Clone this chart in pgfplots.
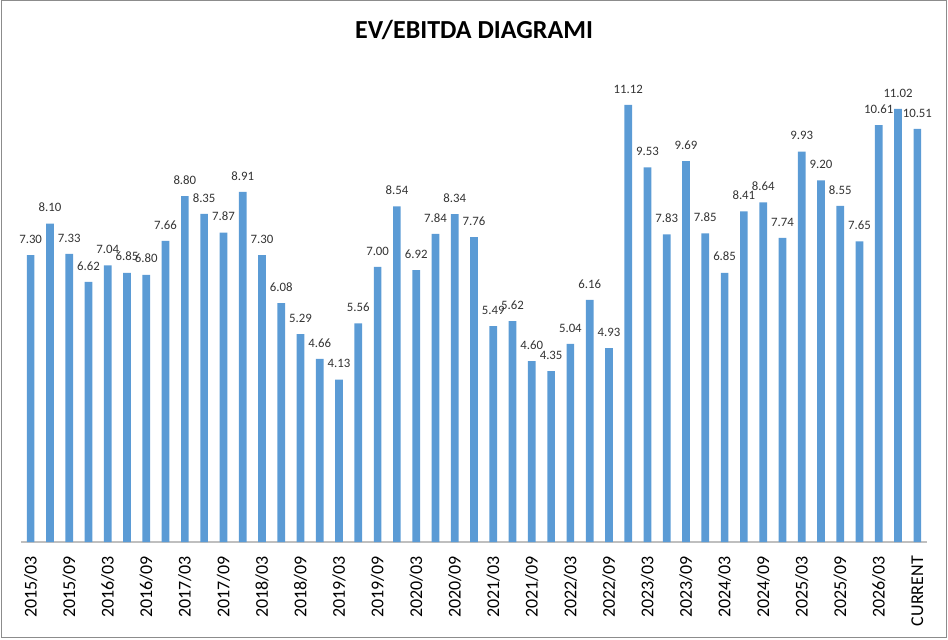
\documentclass[border=0pt]{standalone}
\usepackage{fontspec}
\setmainfont{Carlito}
\usepackage{pgfplots}
\pgfplotsset{compat=1.18}
\definecolor{barblue}{HTML}{5B9BD5}
\definecolor{labgray}{HTML}{333333}
\definecolor{framegray}{HTML}{8C8C8C}
\definecolor{axisgray}{HTML}{BFBFBF}
\begin{document}
\begin{tikzpicture}
\useasboundingbox (0,0) rectangle (948bp,640bp);
\draw[framegray, line width=1bp] (1.5bp,2.5bp) rectangle (946.5bp,639.5bp);
\node[anchor=base, font=\fontsize{26bp}{30bp}\selectfont\bfseries] at (474bp,601bp) {EV/EBITDA DIAGRAMI};
\begin{axis}[
 at={(21bp,98bp)}, anchor=south west,
 scale only axis, width=906bp, height=471.6bp,
 xmin=-0.5, xmax=46.5, ymin=0, ymax=12,
 axis y line=none, axis x line=bottom,
 x axis line style={-, draw=axisgray, line width=1.2bp},
 xtick={0,2,...,46},
 xticklabels={2015/03,2015/09,2016/03,2016/09,2017/03,2017/09,2018/03,2018/09,2019/03,2019/09,2020/03,2020/09,2021/03,2021/09,2022/03,2022/09,2023/03,2023/09,2024/03,2024/09,2025/03,2025/09,2026/03,CURRENT},
 major tick length=0pt,
 xticklabel style={rotate=90, anchor=east, inner sep=0pt, font=\fontsize{18bp}{20bp}\selectfont, text=black},
 xticklabel shift=14bp,
 ybar, bar width=7.7bp,
 nodes near coords,
 nodes near coords style={font=\fontsize{12.8bp}{14bp}\selectfont, text=labgray, inner sep=0pt, yshift=11.5bp, anchor=south},
 /pgf/number format/fixed,
 /pgf/number format/fixed zerofill,
 /pgf/number format/precision=2,
 /pgf/number format/assume math mode=true,
 clip=false,
]
\addplot[fill=barblue, draw=none] coordinates {
(0,7.30) (1,8.10) (2,7.33) (3,6.62) (4,7.04) (5,6.85) (6,6.80) (7,7.66) (8,8.80) (9,8.35)
(10,7.87) (11,8.91) (12,7.30) (13,6.08) (14,5.29) (15,4.66) (16,4.13) (17,5.56) (18,7.00) (19,8.54)
(20,6.92) (21,7.84) (22,8.34) (23,7.76) (24,5.49) (25,5.62) (26,4.60) (27,4.35) (28,5.04) (29,6.16)
(30,4.93) (31,11.12) (32,9.53) (33,7.83) (34,9.69) (35,7.85) (36,6.85) (37,8.41) (38,8.64) (39,7.74)
(40,9.93) (41,9.20) (42,8.55) (43,7.65) (44,10.61) (45,11.02) (46,10.51)
};
\end{axis}
\end{tikzpicture}
\end{document}
